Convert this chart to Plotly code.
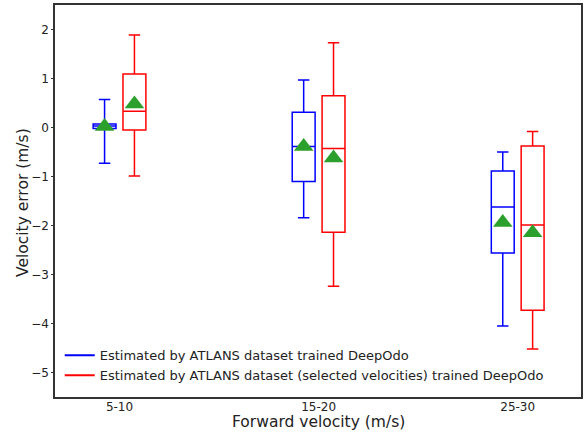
import plotly.graph_objects as go

categories = ["5-10", "15-20", "25-30"]
group_pos = [0, 1, 2]
offset = 0.075

# blue series: ATLANS dataset trained DeepOdo
blue_lower = [-0.73, -1.84, -4.05]
blue_q1 = [-0.02, -1.10, -2.56]
blue_med = [0.03, -0.39, -1.62]
blue_q3 = [0.07, 0.31, -0.89]
blue_upper = [0.57, 0.97, -0.50]
blue_mean = [0.02, -0.39, -1.94]

# red series: selected velocities
red_lower = [-0.99, -3.24, -4.52]
red_q1 = [-0.05, -2.14, -3.73]
red_med = [0.33, -0.43, -1.99]
red_q3 = [1.09, 0.65, -0.38]
red_upper = [1.89, 1.73, -0.08]
red_mean = [0.48, -0.62, -2.15]

blue_name = "Estimated by ATLANS dataset trained DeepOdo"
red_name = "Estimated by ATLANS dataset (selected velocities) trained DeepOdo"

FONT = "DejaVu Sans"
fig = go.Figure()

def add_boxes(sign, lower, q1, med, q3, upper, mean, color):
    xs = [g + sign * offset for g in group_pos]
    fig.add_trace(go.Box(
        x=xs, lowerfence=lower, q1=q1, median=med, q3=q3, upperfence=upper,
        width=0.115, whiskerwidth=0.5, fillcolor="rgba(0,0,0,0)",
        line=dict(color=color, width=1.5), showlegend=False, hoverinfo="skip",
    ))
    fig.add_trace(go.Scatter(
        x=xs, y=mean, mode="markers", showlegend=False, hoverinfo="skip",
        marker=dict(symbol="triangle-up", size=17, color="#2ca02c",
                    line=dict(width=0)),
    ))

add_boxes(-1, blue_lower, blue_q1, blue_med, blue_q3, blue_upper, blue_mean, "blue")
add_boxes(1, red_lower, red_q1, red_med, red_q3, red_upper, red_mean, "red")

fig.add_trace(go.Scatter(x=[None], y=[None], mode="lines", name=blue_name,
                         line=dict(color="blue", width=2)))
fig.add_trace(go.Scatter(x=[None], y=[None], mode="lines", name=red_name,
                         line=dict(color="red", width=2)))

axis_common = dict(showline=True, linecolor="#333333", linewidth=1.5, mirror=True,
                   showgrid=False, zeroline=False, ticks="outside",
                   tickcolor="#333333", automargin=False,
                   tickfont=dict(family=FONT, size=12, color="#222"))

fig.update_layout(
    width=588, height=432,
    margin=dict(l=55, r=7, t=5, b=35),
    paper_bgcolor="white", plot_bgcolor="white",
    font=dict(family=FONT, color="#222"),
    showlegend=True,
    legend=dict(x=0.009, y=0.017, xanchor="left", yanchor="bottom",
                bgcolor="rgba(255,255,255,0)", font=dict(family=FONT, size=13, color="#222"),
                tracegroupgap=0, itemwidth=30),
    xaxis=dict(range=[-0.324, 2.318], tickvals=group_pos, ticktext=categories,
               ticklen=0, ticklabelstandoff=-2, **axis_common),
    yaxis=dict(range=[-5.5, 2.5], tickvals=[-5, -4, -3, -2, -1, 0, 1, 2],
               ticktext=["\u22125", "\u22124", "\u22123", "\u22122", "\u22121", "0", "1", "2"],
               ticklen=2, **axis_common),
    annotations=[
        dict(text="Forward velocity (m/s)", xref="paper", yref="paper", x=0.5, y=0,
             xanchor="center", yanchor="middle", yshift=-25, showarrow=False,
             font=dict(family=FONT, size=15.5, color="#222")),
        dict(text="Velocity error (m/s)", xref="paper", yref="paper", x=0, y=0.5,
             xanchor="center", yanchor="middle", xshift=-32, yshift=-2, textangle=-90,
             showarrow=False, font=dict(family=FONT, size=15.5, color="#222")),
    ],
)

fig.write_html("out.html", config={"displayModeBar": False},
               post_script="document.body.style.margin='0';document.body.style.overflow='hidden';")
